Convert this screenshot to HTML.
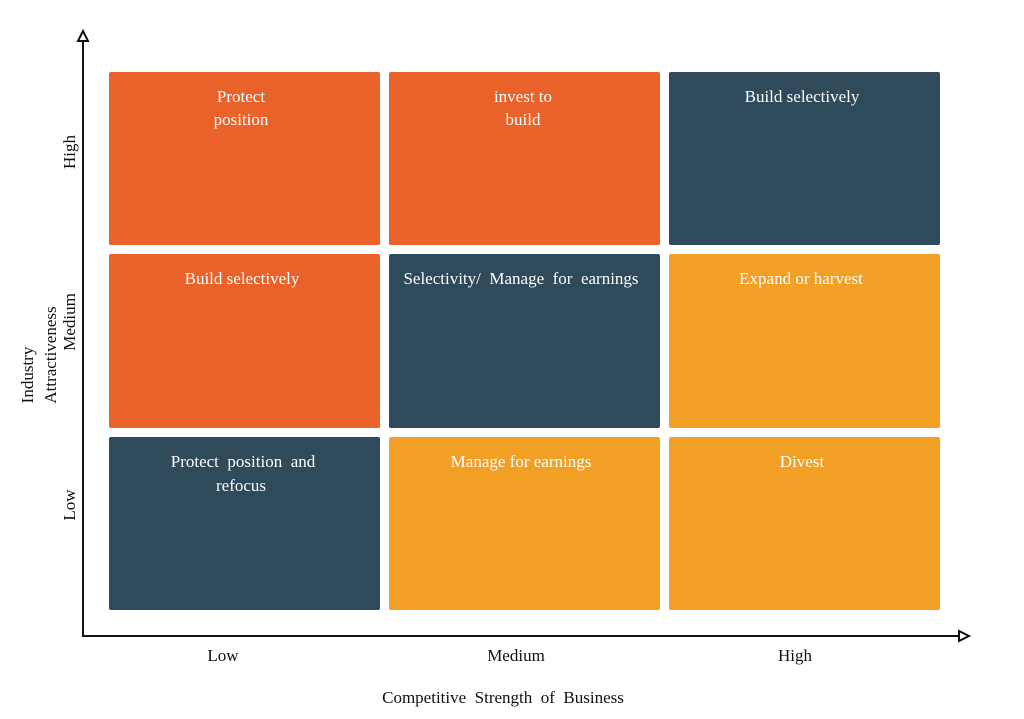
<!DOCTYPE html>
<html><head><meta charset="utf-8"><style>html,body{margin:0;padding:0;background:#fff}</style></head>
<body>
<svg width="1024" height="714" xmlns="http://www.w3.org/2000/svg" font-family="Liberation Serif, serif" font-size="17">
<rect width="1024" height="714" fill="#fff"/>
<g>
<rect x="109" y="72" width="271" height="173" fill="#E8622A" rx="2"/>
<rect x="389" y="72" width="271" height="173" fill="#E8622A" rx="2"/>
<rect x="669" y="72" width="271" height="173" fill="#2F4A5A" rx="2"/>
<rect x="109" y="254" width="271" height="174" fill="#E8622A" rx="2"/>
<rect x="389" y="254" width="271" height="174" fill="#2F4A5A" rx="2"/>
<rect x="669" y="254" width="271" height="174" fill="#F29F26" rx="2"/>
<rect x="109" y="437" width="271" height="173" fill="#2F4A5A" rx="2"/>
<rect x="389" y="437" width="271" height="173" fill="#F29F26" rx="2"/>
<rect x="669" y="437" width="271" height="173" fill="#F29F26" rx="2"/>
</g>
<g fill="#fff" text-anchor="middle">
<text x="241" y="102">Protect</text><text x="241" y="125">position</text>
<text x="523" y="102">invest to</text><text x="523" y="125">build</text>
<text x="802" y="102">Build selectively</text>
<text x="242" y="284">Build selectively</text>
<text x="521" y="284" xml:space="preserve">Selectivity/  Manage  for  earnings</text>
<text x="801" y="284">Expand  or  harvest</text>
<text x="243" y="467" xml:space="preserve">Protect  position  and</text><text x="241" y="491">refocus</text>
<text x="521" y="467">Manage  for  earnings</text>
<text x="802" y="467">Divest</text>
</g>
<g stroke="#111" stroke-width="2" fill="none">
<line x1="83" y1="40" x2="83" y2="636"/>
<line x1="82" y1="636" x2="960" y2="636"/>
<polygon points="78,41 88,41 83,31" fill="#fff"/>
<polygon points="959,631 959,641 969,636" fill="#fff"/>
</g>
<g fill="#111" text-anchor="middle">
<text x="223" y="661">Low</text>
<text x="516" y="661">Medium</text>
<text x="795" y="661">High</text>
<text x="503" y="703" xml:space="preserve">Competitive  Strength  of  Business</text>
<text transform="translate(75,152) rotate(-90)">High</text>
<text transform="translate(75,322) rotate(-90)">Medium</text>
<text transform="translate(75,505) rotate(-90)">Low</text>
<text transform="translate(33,375) rotate(-90)">Industry</text>
<text transform="translate(56,355) rotate(-90)">Attractiveness</text>
</g>
</svg>
</body></html>
